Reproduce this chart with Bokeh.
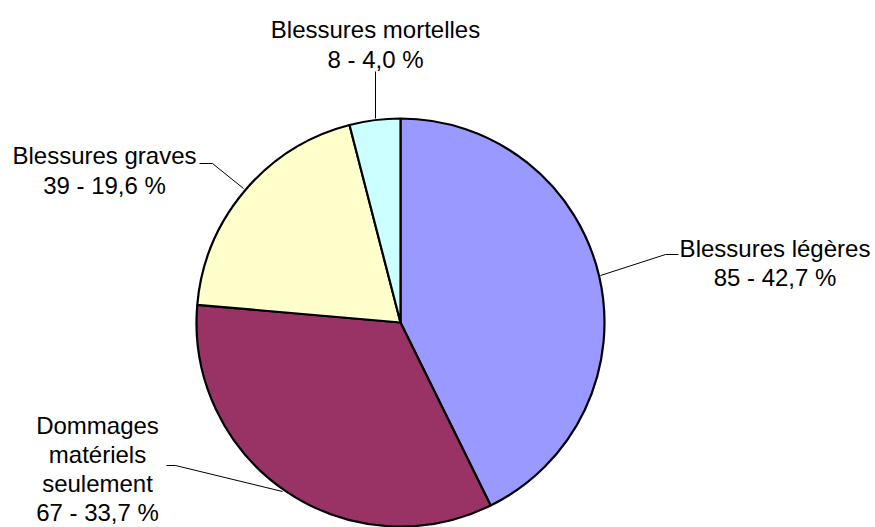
import math
from bokeh.plotting import figure
from bokeh.models import Range1d
from bokeh.core.properties import value
from bokeh.embed import file_html
from bokeh.resources import INLINE

# Data
categories = ["Blessures légères", "Dommages matériels seulement", "Blessures graves", "Blessures mortelles"]
label_lines = [["Blessures légères"], ["Dommages", "matériels", "seulement"], ["Blessures graves"], ["Blessures mortelles"]]
counts = [85, 67, 39, 8]
colors = ["#9999FF", "#993366", "#FFFFCC", "#CCFFFF"]

W, H = 875, 527
CX, CY, R = 400, 322, 204
FONT = "Liberation Sans"
FS = "24px"

# label layout (pixel coords, top-left origin): center x, first baseline y, line height
label_pos = [(774.5, 248, 29), (97, 425, 29), (104, 155, 30), (375, 29, 30)]
leaders = [
    [(678, 254), (665, 254), (600, 275)],
    [(166, 465), (175, 465), (282, 491)],
    [(199, 163), (212, 163), (243, 188)],
    [(375, 71), (375, 118)],
]

p = figure(width=W, height=H, output_backend="svg", toolbar_location=None,
           x_range=Range1d(0, W), y_range=Range1d(0, H), min_border=0)
p.axis.visible = False
p.grid.visible = False
p.outline_line_color = None
p.background_fill_color = "white"
p.border_fill_color = "white"

total = sum(counts)
cum = 0
for c, col in zip(counts, colors):
    a0 = math.pi / 2 - 2 * math.pi * cum / total
    cum += c
    a1 = math.pi / 2 - 2 * math.pi * cum / total
    p.wedge(x=CX, y=H - CY, radius=R, start_angle=a0, end_angle=a1, direction="clock",
            fill_color=col, line_color="black", line_width=2.2)

for pts in leaders:
    p.line([q[0] for q in pts], [H - q[1] for q in pts], line_color="black", line_width=1)

for lines, c, (lx, ly, lh) in zip(label_lines, counts, label_pos):
    pct = f"{100 * c / total:.1f}".replace(".", ",")
    all_lines = lines + [f"{c} - {pct} %"]
    for i, t in enumerate(all_lines):
        p.text(x=[lx], y=[H - (ly + i * lh)], text=[t], text_align="center",
               text_baseline="alphabetic", text_font=value(FONT), text_font_size=FS,
               text_color="black")

open("out.html", "w").write(file_html(p, INLINE))
